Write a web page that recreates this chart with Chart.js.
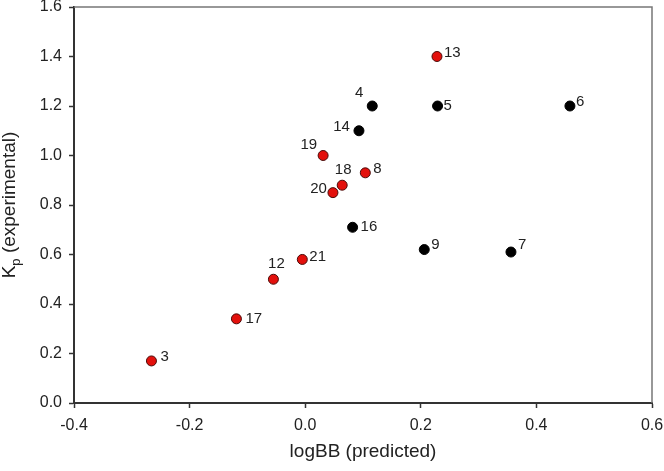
<!DOCTYPE html>
<html>
<head>
<meta charset="utf-8">
<script src="https://cdn.jsdelivr.net/npm/chart.js@4/dist/chart.umd.min.js"></script>
<style>
	html, body { margin: 0; padding: 0; background: #fff; }
	#wrap { width: 664px; height: 471px; }
</style>
</head>
<body>
<div id="wrap"><canvas id="scatter-1"></canvas></div>
<script>
// red series (compounds)
const redIds = ["3", "17", "12", "21", "13", "19", "8", "18", "20"];
const redX = [-0.266, -0.119, -0.055, -0.005, 0.228, 0.031, 0.104, 0.064, 0.048];
const redY = [0.17, 0.34, 0.50, 0.58, 1.40, 1.00, 0.93, 0.88, 0.85];

// black series
const blackIds = ["9", "7", "4", "5", "6", "14", "16"];
const blackX = [0.206, 0.356, 0.116, 0.229, 0.458, 0.093, 0.082];
const blackY = [0.62, 0.61, 1.20, 1.20, 1.20, 1.10, 0.71];

const xTicks = [-0.4, -0.2, 0.0, 0.2, 0.4, 0.6];
const yTicks = [0.0, 0.2, 0.4, 0.6, 0.8, 1.0, 1.2, 1.4, 1.6];

// where each number sits next to its marker: [dx, dy, align]
const labelPlace = {
	"3": [9, -4, "left"], "17": [9, 0, "left"], "12": [3, -15, "center"],
	"21": [7, -3, "left"], "13": [7, -4, "left"], "19": [-6, -11, "right"],
	"8": [8, -4, "left"], "18": [1, -15, "center"], "20": [-6, -4, "right"],
	"9": [7, -5, "left"], "7": [7, -7, "left"], "4": [-13, -13, "center"],
	"5": [6, 0, "left"], "6": [6, -4, "left"], "14": [-9, -4, "right"],
	"16": [8, 0, "left"]
};

function toPoints(xs, ys, ids) {
	let arr = [];
	for (let i = 0; i < xs.length; i++) {
		arr.push({ x: xs[i], y: ys[i], id: ids[i] });
	}
	return arr;
}

const textColor = "#222";
const fontFamily = "'Liberation Sans', Arial, sans-serif";

const pointLabels = {
	id: "pointLabels",
	afterDatasetsDraw(chart) {
		const ctx = chart.ctx;
		ctx.save();
		ctx.font = "15px " + fontFamily;
		ctx.fillStyle = textColor;
		ctx.textBaseline = "middle";
		chart.data.datasets.forEach((ds, di) => {
			const meta = chart.getDatasetMeta(di);
			meta.data.forEach((el, i) => {
				const id = ds.data[i].id;
				const p = labelPlace[id] || [8, 0, "left"];
				ctx.textAlign = p[2];
				ctx.fillText(id, el.x + p[0], el.y + p[1]);
			});
		});
		ctx.restore();
	}
};

const frameAndTitle = {
	id: "frameAndTitle",
	beforeDatasetsDraw(chart) {
		const a = chart.chartArea;
		const ctx = chart.ctx;
		ctx.save();
		ctx.strokeStyle = "#777";
		ctx.lineWidth = 1.5;
		ctx.beginPath();
		ctx.moveTo(a.left, a.top);
		ctx.lineTo(a.right, a.top);
		ctx.lineTo(a.right, a.bottom);
		ctx.stroke();
		ctx.restore();
	},
	afterDraw(chart) {
		const ctx = chart.ctx;
		const a = chart.chartArea;
		ctx.save();
		ctx.translate(10, (a.top + a.bottom) / 2);
		ctx.rotate(-Math.PI / 2);
		ctx.fillStyle = textColor;
		ctx.textBaseline = "middle";
		ctx.font = "19px " + fontFamily;
		const w1 = ctx.measureText("K").width;
		ctx.font = "13px " + fontFamily;
		const w2 = ctx.measureText("p").width;
		ctx.font = "19px " + fontFamily;
		const w3 = ctx.measureText(" (experimental)").width;
		let x = -(w1 + w2 + w3) / 2;
		ctx.textAlign = "left";
		ctx.fillText("K", x, 0);
		x += w1;
		ctx.font = "13px " + fontFamily;
		ctx.fillText("p", x, 6);
		x += w2;
		ctx.font = "19px " + fontFamily;
		ctx.fillText(" (experimental)", x, 0);
		ctx.restore();
	}
};

const config_s1 = {
	type: "scatter",
	data: {
		datasets: [
			{
				label: "red",
				data: toPoints(redX, redY, redIds),
				backgroundColor: "#e3100c",
				borderColor: "#4a0a08",
				borderWidth: 1,
				pointRadius: 5,
			},
			{
				label: "black",
				data: toPoints(blackX, blackY, blackIds),
				backgroundColor: "#000",
				borderColor: "#000",
				borderWidth: 1,
				pointRadius: 5,
			},
		],
	},
	options: {
		responsive: true,
		maintainAspectRatio: false,
		animation: false,
		layout: { padding: { left: 0, right: 12, top: 7, bottom: 0 } },
		plugins: {
			legend: { display: false },
			tooltip: { enabled: false },
		},
		scales: {
			x: {
				type: "linear",
				min: -0.4,
				max: 0.6,
				afterBuildTicks: (s) => { s.ticks = xTicks.map((v) => ({ value: v })); },
				afterFit: (s) => { s.height = 68; s.paddingLeft = 0; s.paddingRight = 0; },
				grid: { drawOnChartArea: false, drawTicks: true, tickLength: 5, tickColor: "#333", tickWidth: 1.5 },
				border: { display: true, color: "#333", width: 2 },
				ticks: {
					color: textColor,
					font: { size: 16, family: fontFamily },
					padding: 8,
					maxRotation: 0,
					callback: (v) => v.toFixed(1),
				},
				title: {
					display: true,
					text: "logBB (predicted)",
					color: textColor,
					font: { size: 19, family: fontFamily },
					padding: { top: 6, bottom: 8 },
				},
			},
			y: {
				type: "linear",
				min: 0,
				max: 1.6,
				afterBuildTicks: (s) => { s.ticks = yTicks.map((v) => ({ value: v })); },
				afterFit: (s) => { s.width = 74; s.paddingTop = 0; s.paddingBottom = 0; },
				grid: { drawOnChartArea: false, drawTicks: true, tickLength: 5, tickColor: "#333", tickWidth: 1.5 },
				border: { display: true, color: "#333", width: 2 },
				ticks: {
					color: textColor,
					font: { size: 16, family: fontFamily },
					padding: 7,
					callback: (v) => v.toFixed(1),
				},
			},
		},
	},
	plugins: [frameAndTitle, pointLabels],
};

new Chart(document.getElementById("scatter-1"), config_s1);
</script>
</body>
</html>
